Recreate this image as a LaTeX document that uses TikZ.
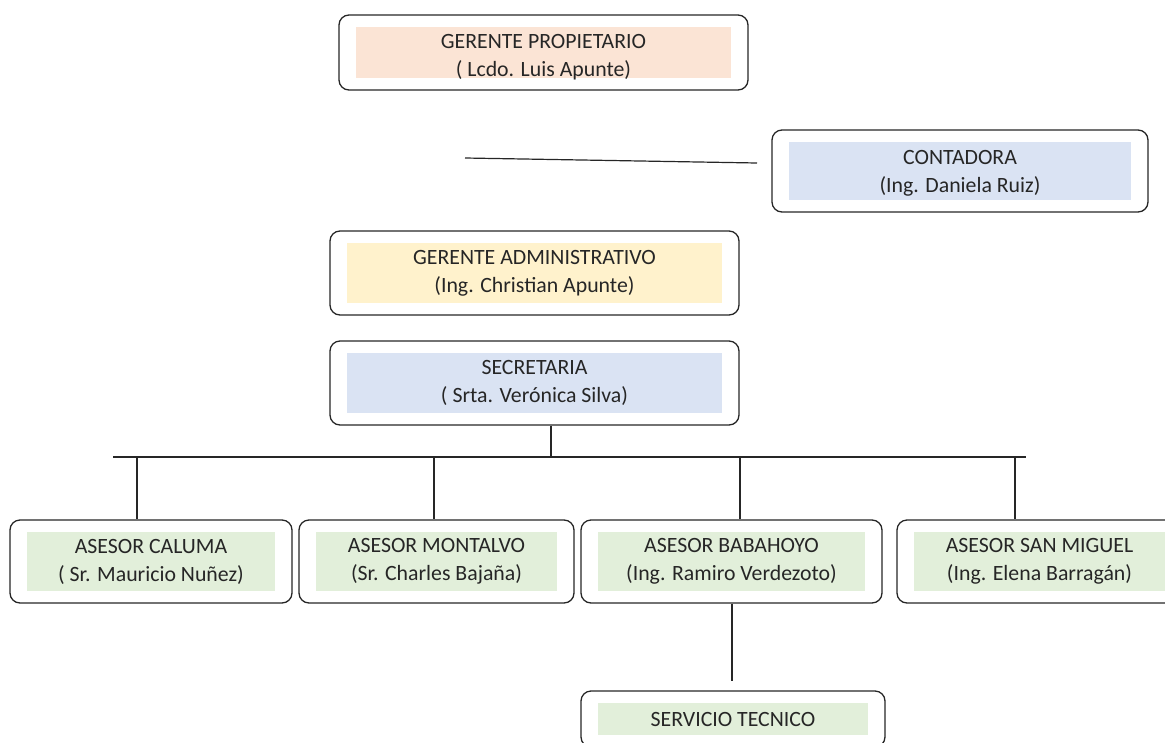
\documentclass[tikz,border=0pt]{standalone}
\usepackage{fontspec}
\setmainfont{Carlito}
\definecolor{salmon}{HTML}{FBE4D5}
\definecolor{celeste}{HTML}{DAE3F3}
\definecolor{crema}{HTML}{FFF2CC}
\definecolor{verde}{HTML}{E2EFDA}
\tikzset{
  cargo/.style={draw=black!85, line width=1.3pt, rounded corners=10pt, align=center,
    inner sep=0pt, text=black!85, font=\fontsize{21.8}{28}\selectfont,
    path picture={\fill[#1, sharp corners] ([xshift=16.5pt,yshift=-11.5pt]path picture bounding box.north west)
      rectangle ([xshift=-17pt,yshift=12pt]path picture bounding box.south east);}},
  enlace/.style={line width=1.2pt, draw=black!85}
}
\begin{document}
\begin{tikzpicture}[x=1pt,y=-1pt]
\useasboundingbox (0,0) rectangle (1165,742);
\clip (0,0) rectangle (1165,742);

\node [cargo=salmon, minimum width=409pt, minimum height=75pt] (prop) at (543.5,52.5)
  {\rule{0pt}{24pt}GERENTE PROPIETARIO\\( Lcdo. Luis Apunte)};
\node [cargo=celeste, minimum width=376pt, minimum height=82pt] (cont) at (960,171)
  {\rule{0pt}{18pt}CONTADORA\\(Ing. Daniela Ruiz)};
\node [cargo=crema, minimum width=409pt, minimum height=84pt] (adm) at (534.5,273)
  {GERENTE ADMINISTRATIVO\\(Ing. Christian Apunte)};
\node [cargo=celeste, minimum width=409pt, minimum height=84pt] (sec) at (534.5,383)
  {SECRETARIA\\( Srta. Verónica Silva)};

\node [cargo=verde, minimum width=282pt, minimum height=83pt] (caluma) at (151,561.5)
  {ASESOR CALUMA\\( Sr. Mauricio Nuñez)};
\node [cargo=verde, minimum width=275pt, minimum height=83pt] (montalvo) at (436.5,561.5)
  {ASESOR MONTALVO\\(Sr. Charles Bajaña)};
\node [cargo=verde, minimum width=301pt, minimum height=83pt] (babahoyo) at (731.5,561.5)
  {ASESOR BABAHOYO\\(Ing. Ramiro Verdezoto)};
\node [cargo=verde, minimum width=285pt, minimum height=83pt] (sanmiguel) at (1039.5,561.5)
  {ASESOR SAN MIGUEL\\(Ing. Elena Barragán)};
\node [cargo=verde, minimum width=304pt, minimum height=56pt] (servicio) at (733,719)
  {SERVICIO TECNICO};

% linea suelta junto a la contadora
\coordinate (sueltaA) at (465,158);
\coordinate (sueltaB) at (757,163);
\draw [enlace] (sueltaA) -- (sueltaB);

% barra de los asesores
\coordinate (barraI) at (113,457);
\coordinate (barraD) at (1026,457);
\draw [enlace] (barraI) -- (barraD);
\draw [enlace] ([xshift=16.5pt]sec.south) -- ([xshift=16.5pt]sec.south |- barraI);
\foreach \x/\dest in {137/caluma,434/montalvo,740/babahoyo,1015/sanmiguel}
   \draw [enlace] (\x,457) -- (\x,457 |- \dest.north);

\draw [enlace] ([xshift=0.5pt]babahoyo.south) -- ([xshift=0.5pt]babahoyo.south |- 0,681);
\end{tikzpicture}
\end{document}
